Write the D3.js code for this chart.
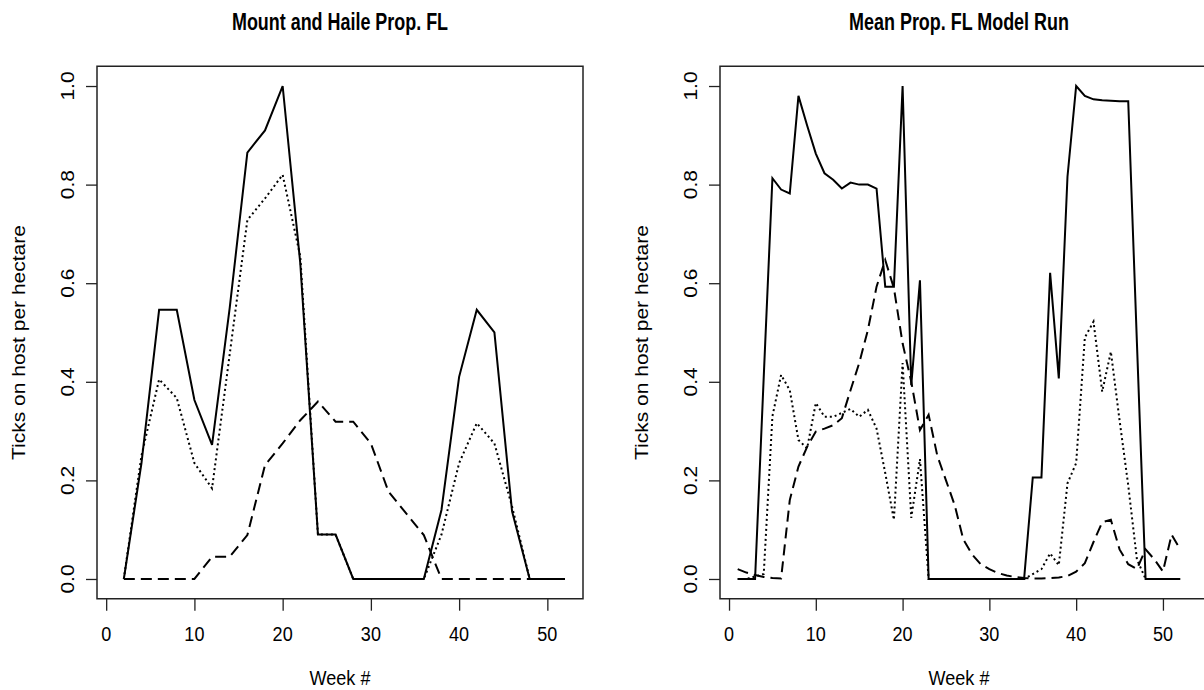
<!DOCTYPE html>
<html><head><meta charset="utf-8">
<script src="https://cdn.jsdelivr.net/npm/d3@7"></script>
<style>body{margin:0;background:#fff}svg{display:block}text{font-family:"Liberation Sans",Arial,sans-serif;fill:#000}</style>
</head><body>
<svg id="chart" width="1204" height="690"></svg>
<script>
// ---------- data ----------
const titles = ["Mount and Haile Prop. FL", "Mean Prop. FL Model Run"];
const xTicks = [0, 10, 20, 30, 40, 50];
const yTicks = [0, 0.2, 0.4, 0.6, 0.8, 1.0];
const xLabel = "Week #";
const yLabel = "Ticks on host per hectare";

// Left panel: observed, every second week
const weeksL = [2,4,6,8,10,12,14,16,18,20,22,24,26,28,30,32,34,36,38,40,42,44,46,48,50,52];
const solidL  = [0,0.235,0.546,0.546,0.363,0.272,0.55,0.865,0.91,1.0,0.64,0.09,0.09,0,0,0,0,0,0.14,0.41,0.546,0.50,0.137,0,0,0];
const dottedL = [0,0.25,0.405,0.367,0.235,0.184,0.456,0.728,0.772,0.82,0.654,0.09,0.09,0,0,0,0,0,0.09,0.235,0.316,0.275,0.147,0,0,0];
const dashedL = [0,0,0,0,0,0.045,0.045,0.089,0.231,0.275,0.322,0.36,0.319,0.319,0.275,0.177,0.133,0.089,0,0,0,0,0,0,0,0];

// Right panel: model, weekly
const weeksR = d3.range(1, 53);
const solidR  = [0,0,0,0.41,0.813,0.79,0.782,0.98,0.92,0.863,0.823,0.81,0.792,0.804,0.80,0.80,0.792,0.593,0.593,1.0,0.393,0.606,0,
                 0,0,0,0,0,0,0,0,0,0,0,0.206,0.206,0.621,0.407,0.816,1.0,0.98,0.973,0.971,0.97,0.969,0.969,0.48,0,0,0,0,0];
const dottedR = [0,0,0.005,0.01,0.33,0.414,0.383,0.282,0.265,0.357,0.329,0.329,0.337,0.345,0.329,0.343,0.305,0.215,0.12,0.438,0.124,0.243,0,
                 0,0,0,0,0,0,0,0,0,0,0,0.01,0.02,0.052,0.028,0.194,0.235,0.49,0.522,0.38,0.461,0.322,0.19,0.04,0,0,0,0,0];
const dashedR = [0.02,0.013,0.008,0.004,0.002,0.001,0.16,0.228,0.268,0.299,0.305,0.312,0.326,0.383,0.438,0.505,0.593,0.647,0.59,0.478,0.40,0.302,0.333,
                 0.25,0.2,0.15,0.08,0.05,0.03,0.02,0.012,0.007,0.004,0.002,0.001,0.001,0.002,0.003,0.006,0.015,0.032,0.075,0.115,0.12,0.06,0.03,0.02,0.06,0.04,0.015,0.09,0.06];

// ---------- layout ----------
const svg = d3.select("#chart");
const FS = 21, SX = 0.86;
const panels = [
  {x0: 97,  x1: 583,  boxRight: 583,  title: titles[0], weeks: weeksL, series: [solidL, dottedL, dashedL]},
  {x0: 720, x1: 1198, boxRight: 1215, title: titles[1], weeks: weeksR, series: [solidR, dottedR, dashedR]}
];
const yTop = 66.3, yBot = 598.7;
const styles = [
  {dash: null, w: 2},
  {dash: "2,3", w: 2},
  {dash: "11,6", w: 2}
];

function txt(g, s, x, y, opts = {}) {
  const sx = opts.sx || SX;
  const t = g.append("text")
    .attr("transform", `translate(${x},${y}) scale(${sx},1)` + (opts.rot ? " rotate(-90)" : ""))
    .attr("text-anchor", "middle")
    .attr("dominant-baseline", "central")
    .style("font-size", (opts.size || FS) + "px")
    .text(s);
  if (opts.bold) t.style("font-weight", "bold");
  return t;
}

panels.forEach(p => {
  const g = svg.append("g");
  const x = d3.scaleLinear().domain([-1.04, 54.04]).range([p.x0, p.x1]);
  const y = d3.scaleLinear().domain([-0.04, 1.04]).range([yBot, yTop]);

  // series
  const line = d3.line().x((d, i) => x(p.weeks[i])).y(d => y(d));
  [2, 1, 0].forEach(k => {
    g.append("path").datum(p.series[k])
      .attr("d", line)
      .attr("fill", "none")
      .attr("stroke", "#000")
      .attr("stroke-width", styles[k].w)
      .attr("stroke-dasharray", styles[k].dash)
      .attr("stroke-linejoin", "miter");
  });

  // box
  g.append("path")
    .attr("d", `M${p.boxRight},${yTop}H${p.x0}V${yBot}H${p.boxRight}` + (p.boxRight < 1204 ? "Z" : ""))
    .attr("fill", "none").attr("stroke", "#222").attr("stroke-width", 1.5);

  // x axis
  const xa = g.append("g").attr("transform", `translate(0,${yBot})`)
    .call(d3.axisBottom(x).tickValues(xTicks).tickSize(12).tickFormat(""));
  xa.select(".domain").remove();
  xa.selectAll("line").attr("stroke", "#222").attr("stroke-width", 1.3);
  xTicks.forEach(v => txt(g, String(v), x(v), 633));

  // y axis
  const ya = g.append("g").attr("transform", `translate(${p.x0},0)`)
    .call(d3.axisLeft(y).tickValues(yTicks).tickSize(11).tickFormat(""));
  ya.select(".domain").remove();
  ya.selectAll("line").attr("stroke", "#222").attr("stroke-width", 1.3);
  yTicks.forEach(v => txt(g, d3.format(".1f")(v), p.x0 - 29, y(v), {rot: true}));

  // labels
  const cx = (p.x0 + p.x1) / 2;
  txt(g, p.title, cx, 22, {bold: true, size: 23, sx: 0.78});
  txt(g, xLabel, cx, 677);
  txt(g, yLabel, p.x0 - 78, (yTop + yBot) / 2 + 10, {rot: true});
});
</script>
</body></html>
